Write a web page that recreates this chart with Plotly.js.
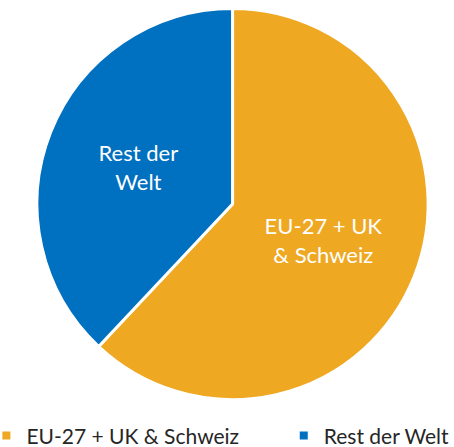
<!DOCTYPE html>
<html><head><meta charset="utf-8">
<script src="https://cdn.plot.ly/plotly-3.0.1.min.js"></script>
<style>body{margin:0;background:#fff}#chart{width:454px;height:447px}</style>
</head><body><div id="chart"></div>
<script>
const labels = ["EU-27 + UK & Schweiz", "Rest der Welt"];
const sliceText = ["EU-27 + UK<br>& Schweiz", "Rest der<br>Welt"];
const values = [62, 38];
const colors = ["#EEA822", "#0070C0"];
const legendX = [-0.03, 0.625];
const FONT = "Lato, 'Open Sans', sans-serif";

const traces = [{
  type: "pie",
  labels: labels,
  values: values,
  text: sliceText,
  textinfo: "text",
  textposition: "inside",
  insidetextorientation: "horizontal",
  hoverinfo: "label+percent",
  sort: false,
  direction: "clockwise",
  rotation: 0,
  showlegend: false,
  marker: {colors: colors, line: {color: "#ffffff", width: 3}},
  textfont: {color: "#ffffff", size: 22, family: FONT},
  domain: {x: [0.0815, 0.943], y: [0.1051, 0.982]}
}];
labels.forEach((lab, i) => {
  traces.push({
    type: "scatter", mode: "markers", x: [null], y: [null],
    name: lab, hoverinfo: "skip", showlegend: true,
    legend: i === 0 ? "legend" : "legend2",
    marker: {symbol: "square", size: 8, color: colors[i]}
  });
});

const legendBase = {orientation: "h", xanchor: "left", y: -0.021, yanchor: "bottom",
  bgcolor: "rgba(0,0,0,0)", font: {size: 21, color: "#262626", family: FONT}};

Plotly.newPlot("chart", traces, {
  width: 454, height: 447,
  margin: {l: 0, r: 0, t: 0, b: 0, autoexpand: false},
  paper_bgcolor: "#ffffff", plot_bgcolor: "rgba(0,0,0,0)",
  xaxis: {visible: false}, yaxis: {visible: false},
  showlegend: true,
  legend: Object.assign({}, legendBase, {x: legendX[0]}),
  legend2: Object.assign({}, legendBase, {x: legendX[1]})
}, {displayModeBar: false});
</script></body></html>
